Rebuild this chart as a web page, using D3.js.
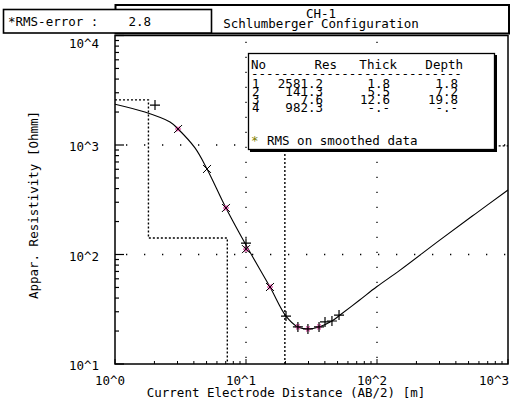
<!DOCTYPE html>
<html><head><meta charset="utf-8">
<script src="https://cdn.jsdelivr.net/npm/d3@7"></script>
<style>
body{margin:0;background:#fff;}
svg text{font-family:"DejaVu Sans Mono","Liberation Mono",monospace;font-size:12.5px;fill:#000;}
</style></head>
<body><svg id="c" width="516" height="403"></svg>
<script>
// ---- data ----
const fitAB  = [1.0, 1.69, 2.63, 3.03, 4.08, 5.04, 7.03, 10.0, 15.25, 20.2, 24.9, 29.7, 36.1, 45.3, 52.2, 72.9, 100, 150, 303, 560, 1000];
const fitRho = [2360, 2000, 1622, 1400, 940, 604, 266, 122, 50.5, 27.4, 21.8, 20.9, 21.8, 24.7, 28.0, 38, 51, 72, 136, 234, 388];
const plusAB  = [2.02, 10.0, 20.2, 24.9, 29.7, 36.1, 40.1, 45.3, 51.3];
const plusRho = [2317, 127, 27.4, 21.8, 20.9, 21.8, 24.2, 24.7, 28.0];
const crossAB  = [3.03, 5.04, 7.03, 10.0, 15.25];
const crossRho = [1400, 604, 266, 112, 50.5];
const smoothAB  = [3.03, 7.03, 10.0, 15.25, 24.9, 29.7, 36.1];
const smoothRho = [1400, 266, 112, 50.5, 21.8, 20.9, 21.8];
const layerNo    = ["1","2","3","4"];
const layerRes   = [2581.2, 141.3, 7.6, 982.3];
const layerThick = [1.8, 5.5, 12.6, null];
const layerDepth = [1.8, 7.2, 19.8, null];
const xTicks = [1, 10, 100, 1000];
const xTickLabels = ["10^0","10^1","10^2","10^3"];
const yTicks = [10, 100, 1000, 10000];
const yTickLabels = ["10^1","10^2","10^3","10^4"];
const rmsError = "2.8";
const titleLines = ["CH-1", "Schlumberger Configuration"];

// ---- layout ----
const svg = d3.select("#c");
const L = 115, R = 508, T = 35.5, B = 364;
const x = d3.scaleLog().domain([1, 1000]).range([L, R]);
const y = d3.scaleLog().domain([10, 10000]).range([B, T]);

svg.append("defs").append("clipPath").attr("id","clip")
  .append("rect").attr("x",L).attr("y",T).attr("width",R-L).attr("height",B-T);

// grid dots
const g = svg.append("g");
[10,100].forEach(v=>{
  g.append("line").attr("x1",x(v)).attr("x2",x(v)).attr("y1",B-6).attr("y2",T+4)
   .attr("stroke","#000").attr("stroke-width",1.3).attr("stroke-dasharray","1.3,13.7");
});
[100,1000].forEach(v=>{
  g.append("line").attr("x1",L+11).attr("x2",R).attr("y1",y(v)).attr("y2",y(v))
   .attr("stroke","#000").attr("stroke-width",1.3).attr("stroke-dasharray","1.3,16.7");
});

// model step line
const stepPts = [];
let prevX = 1;
layerRes.forEach((r,i)=>{
  const d = layerDepth[i] == null ? 1000 : layerDepth[i];
  stepPts.push([prevX, r]); stepPts.push([d, r]);
  prevX = d;
});
const stepLine = d3.line().x(d=>x(d[0])).y(d=>y(d[1]));
svg.append("path").attr("d", stepLine(stepPts)).attr("clip-path","url(#clip)")
  .attr("fill","none").attr("stroke","#000").attr("stroke-width",1.4).attr("stroke-dasharray","2,2");

// fitted curve
const fit = fitAB.map((a,i)=>[a, fitRho[i]]);
svg.append("path").attr("d", d3.line().x(d=>x(d[0])).y(d=>y(d[1])).curve(d3.curveCatmullRom.alpha(0.5))(fit))
  .attr("clip-path","url(#clip)").attr("fill","none").attr("stroke","#000").attr("stroke-width",1.1);

// smoothed markers (magenta *)
const mk = svg.append("g");
smoothAB.forEach((a,i)=>{
  const cx = x(a), cy = y(smoothRho[i]);
  [0,60,120].forEach(ang=>{
    mk.append("line").attr("x1",cx-3).attr("x2",cx+3).attr("y1",cy).attr("y2",cy)
      .attr("transform",`rotate(${ang},${cx},${cy})`).attr("stroke","#e0309a").attr("stroke-width",1.1);
  });
});
// + markers
plusAB.forEach((a,i)=>{
  const cx = x(a), cy = y(plusRho[i]), s=5;
  mk.append("path").attr("d",`M${cx-s},${cy}H${cx+s}M${cx},${cy-s}V${cy+s}`).attr("stroke","#000").attr("stroke-width",1.2);
});
// x markers
crossAB.forEach((a,i)=>{
  const cx = x(a), cy = y(crossRho[i]), s=4;
  mk.append("path").attr("d",`M${cx-s},${cy-s}L${cx+s},${cy+s}M${cx-s},${cy+s}L${cx+s},${cy-s}`).attr("stroke","#000").attr("stroke-width",1);
});

// plot frame
svg.append("rect").attr("x",L).attr("y",T).attr("width",R-L).attr("height",B-T)
  .attr("fill","none").attr("stroke","#000").attr("stroke-width",1.5);

// ticks
const ax = svg.append("g");
const minorsX = [], minorsY = [];
for (let e=0;e<3;e++) for (let m=2;m<=9;m++) minorsX.push(m*Math.pow(10,e));
for (let e=1;e<4;e++) for (let m=2;m<=9;m++) minorsY.push(m*Math.pow(10,e));
minorsX.forEach(v=>ax.append("line").attr("x1",x(v)).attr("x2",x(v)).attr("y1",B).attr("y2",B-3).attr("stroke","#000"));
xTicks.forEach(v=>ax.append("line").attr("x1",x(v)).attr("x2",x(v)).attr("y1",B).attr("y2",B-5).attr("stroke","#000"));
minorsY.forEach(v=>ax.append("line").attr("x1",L).attr("x2",L+4).attr("y1",y(v)).attr("y2",y(v)).attr("stroke","#000").attr("stroke-width",1.2));
yTicks.forEach(v=>ax.append("line").attr("x1",L).attr("x2",L+9).attr("y1",y(v)).attr("y2",y(v)).attr("stroke","#000").attr("stroke-width",1.2));

xTicks.forEach((v,i)=>ax.append("text").attr("x",Math.min(x(v)-5,R-14)).attr("y",385).attr("text-anchor","middle").text(xTickLabels[i]));
yTicks.forEach((v,i)=>ax.append("text").attr("x",99).attr("y",Math.max(y(v)+6,48)).attr("text-anchor","end").text(yTickLabels[i]));
svg.append("text").attr("x",286).attr("y",397).attr("text-anchor","middle").text("Current Electrode Distance (AB/2) [m]");
svg.append("text").attr("transform","translate(38,205) rotate(-90)").attr("text-anchor","middle").text("Appar. Resistivity [Ohmm]");

// title box
svg.append("rect").attr("x",115.5).attr("y",5).attr("width",393.5).attr("height",28.5)
  .attr("fill","#fff").attr("stroke","#000").attr("stroke-width",2);
svg.append("text").attr("x",321).attr("y",18).attr("text-anchor","middle").text(titleLines[0]);
svg.append("text").attr("x",321).attr("y",28).attr("text-anchor","middle").text(titleLines[1]);
svg.append("rect").attr("x",3.5).attr("y",9.5).attr("width",208).attr("height",23.5)
  .attr("fill","#fff").attr("stroke","#000").attr("stroke-width",1.6);
svg.append("text").attr("x",8).attr("y",26).attr("xml:space","preserve").style("white-space","pre").text("*RMS-error :    " + rmsError);

// legend box
const lg = svg.append("g");
lg.append("rect").attr("x",250).attr("y",55).attr("width",247).attr("height",97).attr("fill","#000");
lg.append("rect").attr("x",248.5).attr("y",53.5).attr("width",246).attr("height",96).attr("fill","#fff").attr("stroke","#000").attr("stroke-width",1.3);
lg.append("text").attr("x",251).attr("y",69).text("No");
lg.append("text").attr("x",337).attr("y",69).attr("text-anchor","end").text("Res");
lg.append("text").attr("x",397).attr("y",69).attr("text-anchor","end").text("Thick");
lg.append("text").attr("x",463).attr("y",69).attr("text-anchor","end").text("Depth");
lg.append("text").attr("x",251).attr("y",78).text("----------------------------");
const fmt = v => v==null ? "-.-" : v.toFixed(1);
layerNo.forEach((n,i)=>{
  const by = 88 + i*8;
  lg.append("text").attr("x",252).attr("y",by).text(n);
  lg.append("text").attr("x",323).attr("y",by).attr("text-anchor","end").text(fmt(layerRes[i]));
  lg.append("text").attr("x",390).attr("y",by).attr("text-anchor","end").text(fmt(layerThick[i]));
  lg.append("text").attr("x",458).attr("y",by).attr("text-anchor","end").text(fmt(layerDepth[i]));
});
lg.append("text").attr("x",251).attr("y",145).style("fill","#808000").text("*");
lg.append("text").attr("x",267).attr("y",145).text("RMS on smoothed data");
</script></body></html>
